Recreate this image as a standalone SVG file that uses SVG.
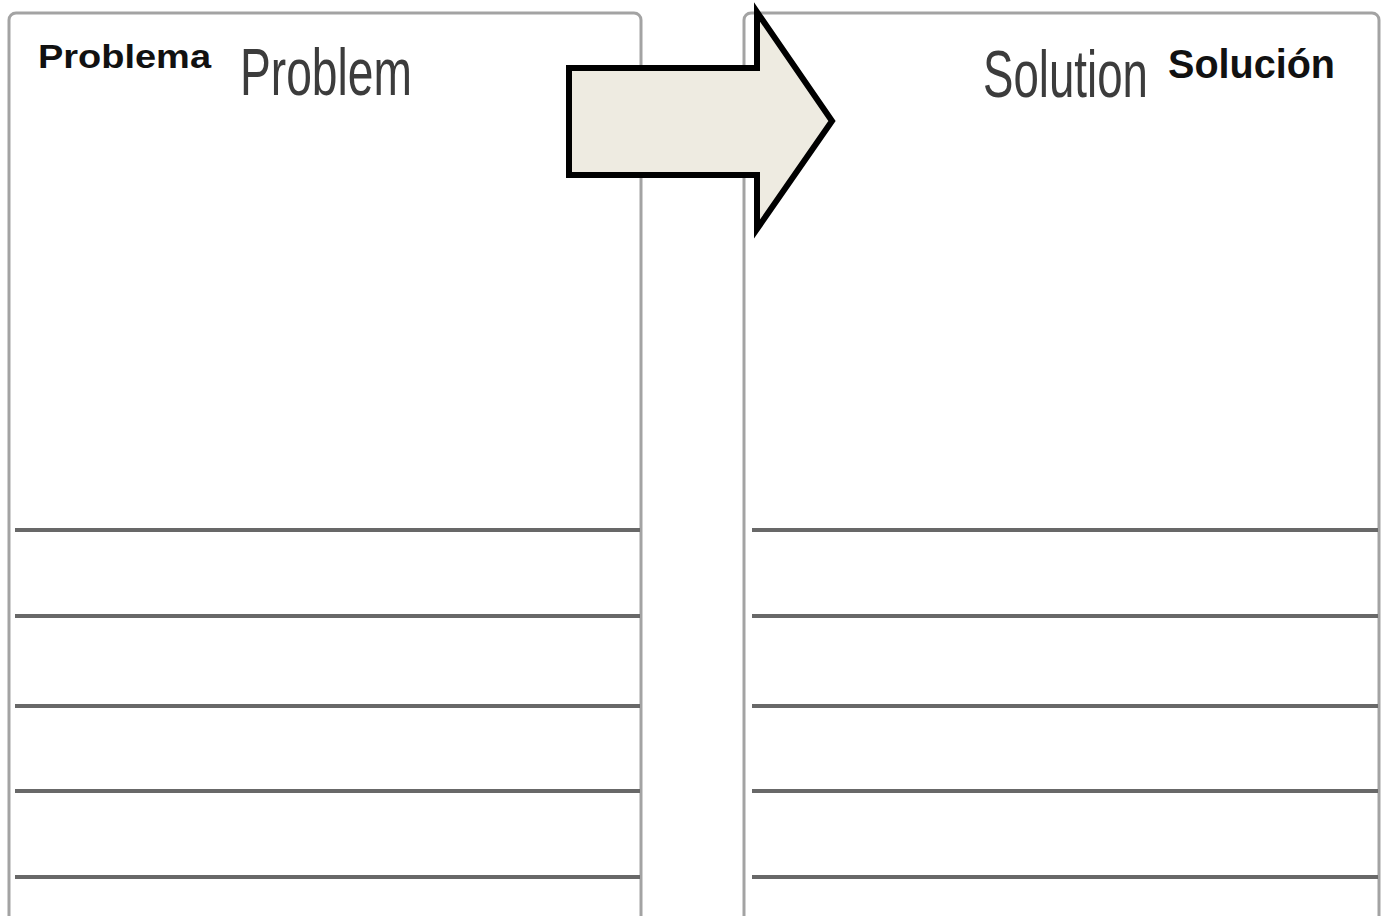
<svg xmlns="http://www.w3.org/2000/svg" width="1384" height="916" viewBox="0 0 1384 916">
<style>
.box{fill:#fff;stroke:#a3a3a3;stroke-width:3}
.rule{stroke:#686868;stroke-width:4}
.es{font-family:"Liberation Sans",Arial,sans-serif;font-weight:bold;fill:#111}
.en{font-family:"Liberation Sans",Arial,sans-serif;fill:#3c3c3c}
</style>
<rect width="1384" height="916" fill="#fff"/>
<g id="problem-box">
<rect class="box" x="9" y="13" width="632" height="910" rx="7"/>
<line class="rule" x1="15" y1="530" x2="640" y2="530"/>
<line class="rule" x1="15" y1="616" x2="640" y2="616"/>
<line class="rule" x1="15" y1="706" x2="640" y2="706"/>
<line class="rule" x1="15" y1="791" x2="640" y2="791"/>
<line class="rule" x1="15" y1="877" x2="640" y2="877"/>
<text class="es" x="38" y="68" font-size="34" textLength="173" lengthAdjust="spacingAndGlyphs">Problema</text>
<text class="en" transform="translate(240,95) scale(0.7,1)" x="0" y="0" font-size="66" textLength="245.7" lengthAdjust="spacingAndGlyphs">Problem</text>
</g>
<g id="solution-box">
<rect class="box" x="744" y="13" width="635" height="910" rx="7"/>
<line class="rule" x1="752" y1="530" x2="1378" y2="530"/>
<line class="rule" x1="752" y1="616" x2="1378" y2="616"/>
<line class="rule" x1="752" y1="706" x2="1378" y2="706"/>
<line class="rule" x1="752" y1="791" x2="1378" y2="791"/>
<line class="rule" x1="752" y1="877" x2="1378" y2="877"/>
<text class="en" transform="translate(983,97) scale(0.693,1)" x="0" y="0" font-size="66" textLength="238" lengthAdjust="spacingAndGlyphs">Solution</text>
<text class="es" x="1168" y="78" font-size="40" textLength="167" lengthAdjust="spacingAndGlyphs">Solución</text>
</g>
<g id="connectors">
<path d="M569,68 L757,68 L757,12 L832,121 L757,229 L757,175 L569,175 Z" fill="#eeebe1" stroke="#000" stroke-width="6" stroke-linejoin="miter"/>
</g>
</svg>
